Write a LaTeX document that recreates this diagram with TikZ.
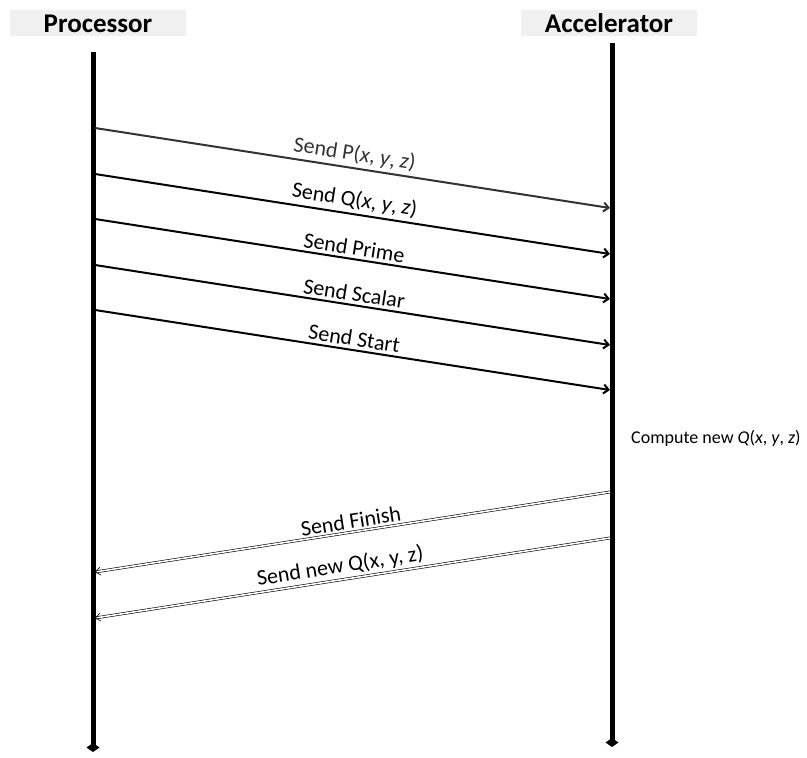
\documentclass[tikz,border=0pt]{standalone}
\usepackage{fontspec}
\setmainfont{Carlito}
\usetikzlibrary{arrows.meta}

\begin{document}
\begin{tikzpicture}[
        x=1pt, y=-1pt,
        header/.style={fill=black!6, minimum width=176pt, minimum height=26pt, text height=20pt, text depth=2pt, font=\fontsize{27}{29}\selectfont\bfseries, inner sep=0pt},
        lifeline/.style={line width=5pt, -{Diamond[width=13pt,length=9pt]}},
        msg/.style={line width=2pt, -{Straight Barb[length=5pt,width=9pt]}},
        reply/.style={double, double distance=1.6pt, line width=0.6pt, -{Straight Barb[length=5pt,width=8pt,open]}},
        lbl/.style={font=\fontsize{22}{24}\selectfont, sloped, above, inner sep=3pt},
    ]
    \useasboundingbox (0,0) rectangle (807,758);
    \node[header] (proc) at (98,23) {Processor};
    \node[header] (acc) at (609,23) {Accelerator};
    \coordinate (ptop) at (93,52);
    \coordinate (pbot) at (93,752);
    \coordinate (atop) at (612,43);
    \coordinate (abot) at (612,747);
    \draw[lifeline] (ptop) -- (pbot);
    \draw[lifeline] (atop) -- (abot);
    % messages to the accelerator
    \coordinate (p1) at (95,128); \coordinate (a1) at (610,208);
    \coordinate (p2) at (95,174); \coordinate (a2) at (610,254);
    \coordinate (p3) at (95,219); \coordinate (a3) at (610,299);
    \coordinate (p4) at (95,265); \coordinate (a4) at (610,345);
    \coordinate (p5) at (95,310); \coordinate (a5) at (610,390);
    \draw[msg, black!80] (p1) -- node[lbl]{Send P(\textit{x}, \textit{y}, \textit{z})} (a1);
    \draw[msg] (p2) -- node[lbl]{Send Q(\textit{x}, \textit{y}, \textit{z})} (a2);
    \draw[msg] (p3) -- node[lbl]{Send Prime} (a3);
    \draw[msg] (p4) -- node[lbl]{Send Scalar} (a4);
    \draw[msg] (p5) -- node[lbl]{Send Start} (a5);
    \node[anchor=west, font=\fontsize{18}{20}\selectfont, inner sep=0pt] (comp) at (631,438)
        {Compute new \textit{Q}(\textit{x}, \textit{y}, \textit{z})};
    % replies to the processor
    \coordinate (a6) at (610,492); \coordinate (p6) at (95,572);
    \coordinate (a7) at (610,538); \coordinate (p7) at (95,618);
    \draw[reply] (a6) -- node[lbl, pos=0.5]{Send Finish} (p6);
    \draw[reply] (a7) -- node[lbl, pos=0.52]{Send new Q(x, y, z)} (p7);
\end{tikzpicture}
\end{document}
